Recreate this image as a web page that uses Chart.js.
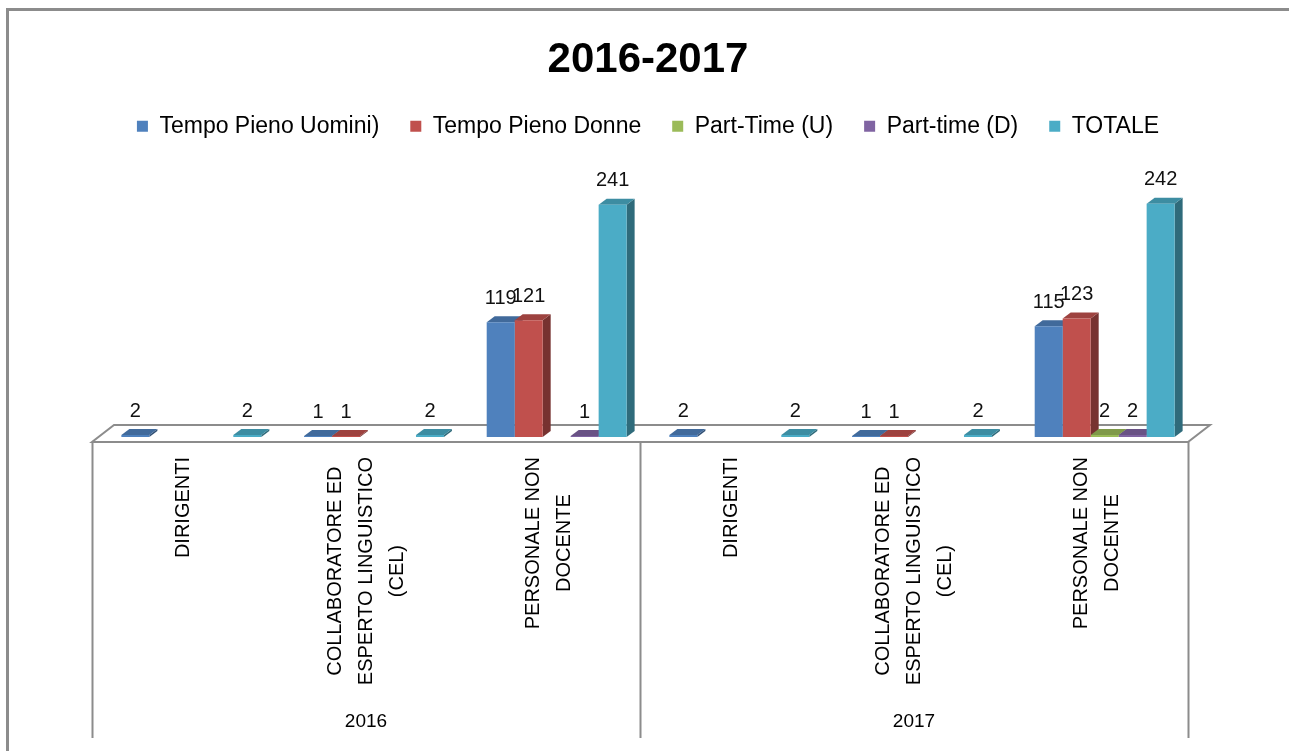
<!DOCTYPE html>
<html>
<head>
<meta charset="utf-8">
<title>2016-2017</title>
<script src="https://cdn.jsdelivr.net/npm/chart.js@4.4.1/dist/chart.umd.min.js"></script>
<style>
  html, body { margin: 0; padding: 0; background: #fff; overflow: hidden; }
</style>
</head>
<body>
<canvas id="personaleChart" width="1289" height="751"></canvas>
<script>
// categorie (asse x) e anni
const categorie = [
    'DIRIGENTI', ['COLLABORATORE ED', 'ESPERTO LINGUISTICO', '(CEL)'], ['PERSONALE NON', 'DOCENTE'],
    'DIRIGENTI', ['COLLABORATORE ED', 'ESPERTO LINGUISTICO', '(CEL)'], ['PERSONALE NON', 'DOCENTE']
];
const anni = ['2016', '2017'];

// valori delle serie (null = nessuna barra)
const tempoPienoUomini = [2, 1, 119, 2, 1, 115];
const tempoPienoDonne = [null, 1, 121, null, 1, 123];
const partTimeU = [null, null, null, null, null, 2];
const partTimeD = [null, null, 1, null, null, 2];
const totale = [2, 2, 241, 2, 2, 242];

const FONT = "'Liberation Sans', Arial, sans-serif";
Chart.defaults.font.family = FONT;
Chart.defaults.color = '#000';

// profondità dell'effetto 3D
const DX = 8, DY = -6;

function shade(hex, f) {
    const n = parseInt(hex.slice(1), 16);
    const r = Math.round(((n >> 16) & 255) * f);
    const g = Math.round(((n >> 8) & 255) * f);
    const b = Math.round((n & 255) * f);
    return `rgb(${r}, ${g}, ${b})`;
}

function serie(label, data, color) {
    return {
        label: label,
        data: data,
        backgroundColor: color,
        borderWidth: 0,
        sideColor: shade(color, 0.62),
        topColor: shade(color, 0.82)
    };
}

// pavimento 3D e linee di separazione
const pavimento = {
    id: 'pavimento',
    beforeDatasetsDraw(chart) {
        const ctx = chart.ctx;
        const x = chart.scales.x;
        const base = chart.scales.y.getPixelForValue(0);
        const left = x.left - DX, right = x.right - DX;
        ctx.save();
        ctx.strokeStyle = '#8c8c8c';
        ctx.lineWidth = 2;
        ctx.beginPath();
        ctx.moveTo(left, base + 5);
        ctx.lineTo(right, base + 5);
        ctx.lineTo(right + 22, base - 12);
        ctx.lineTo(left + 22, base - 12);
        ctx.closePath();
        ctx.stroke();
        // linee verticali tra gli anni
        const step = (x.right - x.left) / categorie.length;
        for (let k = 0; k <= anni.length; k++) {
            const px = Math.round(x.left - DX + k * step * 3) + 0.5;
            ctx.beginPath();
            ctx.moveTo(px, base + 5);
            ctx.lineTo(px, 738);
            ctx.stroke();
        }
        ctx.restore();
    }
};

// facce laterali e superiori delle barre (disegnate prima dei fronti)
const barre3d = {
    id: 'barre3d',
    beforeDatasetsDraw(chart) {
        const ctx = chart.ctx;
        chart.data.datasets.forEach((ds, d) => {
            const meta = chart.getDatasetMeta(d);
            meta.data.forEach((bar, i) => {
                if (ds.data[i] == null) return;
                const p = bar.getProps(['x', 'y', 'base', 'width'], true);
                const l = p.x - p.width / 2, r = p.x + p.width / 2;
                ctx.save();
                ctx.fillStyle = ds.sideColor;
                ctx.beginPath();
                ctx.moveTo(r, p.base);
                ctx.lineTo(r, p.y);
                ctx.lineTo(r + DX, p.y + DY);
                ctx.lineTo(r + DX, p.base + DY);
                ctx.closePath();
                ctx.fill();
                ctx.fillStyle = ds.topColor;
                ctx.beginPath();
                ctx.moveTo(l, p.y);
                ctx.lineTo(l + DX, p.y + DY);
                ctx.lineTo(r + DX, p.y + DY);
                ctx.lineTo(r, p.y);
                ctx.closePath();
                ctx.fill();
                ctx.restore();
            });
        });
    },
    afterDatasetsDraw(chart) {
        // etichette dei valori
        const ctx = chart.ctx;
        ctx.save();
        ctx.font = `20px ${FONT}`;
        ctx.fillStyle = '#111';
        ctx.textAlign = 'center';
        ctx.textBaseline = 'middle';
        chart.data.datasets.forEach((ds, d) => {
            const meta = chart.getDatasetMeta(d);
            meta.data.forEach((bar, i) => {
                if (ds.data[i] == null) return;
                ctx.fillText(String(ds.data[i]), bar.x, bar.y - 24);
            });
        });
        ctx.restore();
    }
};

// etichette categorie, anni e cornice
const etichette = {
    id: 'etichette',
    beforeDraw(chart) {
        const ctx = chart.ctx;
        ctx.save();
        ctx.fillStyle = '#fff';
        ctx.fillRect(0, 0, chart.width, chart.height);
        ctx.restore();
    },
    afterDraw(chart) {
        const ctx = chart.ctx;
        const x = chart.scales.x;
        const step = (x.right - x.left) / categorie.length;
        ctx.save();
        ctx.fillStyle = '#000';
        ctx.font = `20px ${FONT}`;
        ctx.textBaseline = 'middle';
        ctx.textAlign = 'center';
        const lineH = 31;
        const top = 457;
        categorie.forEach((lab, i) => {
            const lines = Array.isArray(lab) ? lab : [lab];
            const cx = x.getPixelForValue(i) - DX;
            const maxW = Math.max(...lines.map(t => ctx.measureText(t).width));
            lines.forEach((t, j) => {
                const lx = cx + (j - (lines.length - 1) / 2) * lineH;
                ctx.save();
                ctx.translate(lx, top + maxW / 2);
                ctx.rotate(-Math.PI / 2);
                ctx.fillText(t, 0, 0);
                ctx.restore();
            });
        });
        ctx.font = `19px ${FONT}`;
        anni.forEach((a, k) => {
            const cx = x.left - DX + (k * 3 + 1.5) * step;
            ctx.fillText(a, cx, 722);
        });
        // cornice esterna
        ctx.fillStyle = '#8c8c8c';
        ctx.fillRect(6, 8, 3, chart.height);
        ctx.fillRect(6, 8, chart.width, 3);
        ctx.restore();
    }
};

const ctx = document.getElementById('personaleChart').getContext('2d');
const personaleChart = new Chart(ctx, {
    type: 'bar',
    data: {
        labels: categorie,
        datasets: [
            serie('Tempo Pieno Uomini)', tempoPienoUomini, '#4f81bd'),
            serie('Tempo Pieno Donne', tempoPienoDonne, '#c0504d'),
            serie('Part-Time (U)', partTimeU, '#9bbb59'),
            serie('Part-time (D)', partTimeD, '#8064a2'),
            serie('TOTALE', totale, '#4bacc6')
        ]
    },
    options: {
        responsive: false,
        animation: false,
        layout: {
            padding: { top: 10, left: 100, right: 93, bottom: 314 }
        },
        datasets: {
            bar: {
                categoryPercentage: 0.766,
                barPercentage: 1
            }
        },
        plugins: {
            title: {
                display: true,
                text: '2016-2017',
                color: '#000',
                font: { size: 42, weight: 'bold', lineHeight: 0.9 },
                padding: { top: 32, bottom: 4 }
            },
            legend: {
                display: true,
                labels: {
                    boxWidth: 11,
                    boxHeight: 11,
                    padding: 31,
                    color: '#000',
                    font: { size: 23 }
                }
            },
            tooltip: { enabled: false }
        },
        scales: {
            x: {
                display: false
            },
            y: {
                display: false,
                min: 0,
                max: 300
            }
        }
    },
    plugins: [pavimento, barre3d, etichette]
});
</script>
</body>
</html>
